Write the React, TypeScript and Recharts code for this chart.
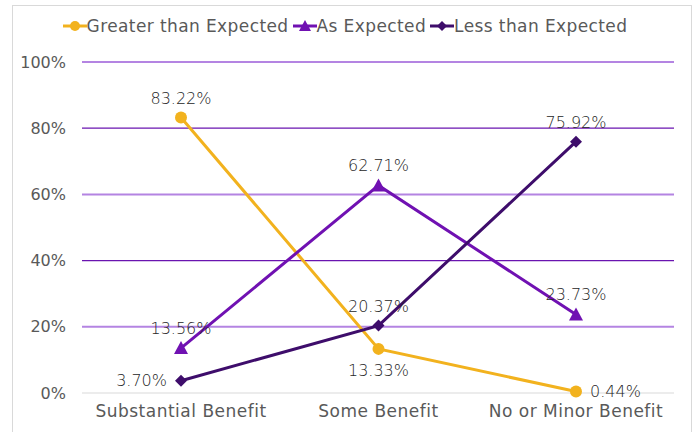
import { LineChart, Line, XAxis, YAxis, ReferenceLine, Legend, LabelList } from "recharts"

const categories = ["Substantial Benefit", "Some Benefit", "No or Minor Benefit"]
const greaterThanExpected = [0.8322, 0.1333, 0.0044]
const asExpected = [0.1356, 0.6271, 0.2373]
const lessThanExpected = [0.037, 0.2037, 0.7592]
const yTicks = [0, 0.2, 0.4, 0.6, 0.8, 1]

const data = categories.map((name, i) => ({
  name,
  greater: greaterThanExpected[i],
  as: asExpected[i],
  less: lessThanExpected[i],
}))

const FONT = "'DejaVu Sans', sans-serif"
const YELLOW = "#F2B21E"
const PURPLE = "#7011B2"
const DARK = "#3E0D6B"

// 0% grey, then light / dark purple alternating
const gridStyle = (v: number) => {
  if (v === 0) return { stroke: "#d9d9d9", width: 1.2 }
  return Math.round(v * 10) % 4 === 0 ? { stroke: "#6a14b0", width: 1.2 } : { stroke: "#b484e2", width: 2 }
}

const pct = (v: number) => `${(v * 100).toFixed(2)}%`

function makeLabel(positions: string[]) {
  return (props: any) => {
    const { x, y, value, index } = props
    const pos = positions[index]
    let tx = x
    let ty = y
    let anchor: "middle" | "start" | "end" = "middle"
    if (pos === "top") ty = y - 14
    if (pos === "bottom") ty = y + 27
    if (pos === "right") {
      tx = x + 14
      ty = y + 5
      anchor = "start"
    }
    if (pos === "left") {
      tx = x - 14
      ty = y + 5
      anchor = "end"
    }
    return (
      <text x={tx} y={ty} textAnchor={anchor} fill="#262626" fontSize={16} fontFamily={FONT} fontWeight={200}>
        {pct(value)}
      </text>
    )
  }
}

const CircleDot = (props: any) => {
  const { cx, cy } = props
  return <circle cx={cx} cy={cy} r={6} fill={YELLOW} />
}

const TriangleDot = (props: any) => {
  const { cx, cy } = props
  return <path d={`M${cx},${cy - 7} L${cx + 7},${cy + 6} L${cx - 7},${cy + 6} Z`} fill={PURPLE} />
}

const DiamondDot = (props: any) => {
  const { cx, cy } = props
  return <path d={`M${cx},${cy - 6} L${cx + 6},${cy} L${cx},${cy + 6} L${cx - 6},${cy} Z`} fill={DARK} />
}

const legendItems = [
  { label: "Greater than Expected", color: YELLOW, shape: "circle" },
  { label: "As Expected", color: PURPLE, shape: "triangle" },
  { label: "Less than Expected", color: DARK, shape: "diamond" },
]

function LegendContent() {
  return (
    <div style={{ display: "flex", justifyContent: "center", gap: 4, fontFamily: FONT, fontSize: 17, letterSpacing: 0.4, color: "#595959" }}>
      {legendItems.map((item) => (
        <div key={item.label} style={{ display: "flex", alignItems: "center" }}>
          <svg width={24} height={14}>
            <line x1={0} y1={7} x2={24} y2={7} stroke={item.color} strokeWidth={3} />
            {item.shape === "circle" && <circle cx={12} cy={7} r={5} fill={item.color} />}
            {item.shape === "triangle" && <path d="M12,1 L18,12 L6,12 Z" fill={item.color} />}
            {item.shape === "diamond" && <path d="M12,2 L17,7 L12,12 L7,7 Z" fill={item.color} />}
          </svg>
          <span>{item.label}</span>
        </div>
      ))}
    </div>
  )
}

export default function App() {
  return (
    <div style={{ position: "absolute", left: 0, top: 0, width: 694, height: 432, background: "#fff" }}>
      <div style={{ position: "absolute", left: 12, top: 5, width: 678, height: 440, border: "1px solid #d9d9d9" }} />
      <LineChart width={694} height={432} data={data} margin={{ top: 42, right: 20, bottom: 9, left: 0 }}>
        {yTicks.map((t) => (
          <ReferenceLine key={t} y={t} stroke={gridStyle(t).stroke} strokeWidth={gridStyle(t).width} ifOverflow="extendDomain" />
        ))}
        <XAxis
          dataKey="name"
          axisLine={false}
          tickLine={false}
          height={30}
          padding={{ left: 99, right: 98 }}
          tick={{ fill: "#595959", fontSize: 17, fontFamily: FONT, letterSpacing: 0.5 }}
          tickMargin={6}
        />
        <YAxis
          domain={[0, 1]}
          ticks={yTicks}
          width={82}
          axisLine={false}
          tickLine={false}
          tickMargin={10}
          tickFormatter={(v) => `${Math.round(v * 100)}%`}
          tick={{ fill: "#595959", fontSize: 16, fontFamily: FONT }}
        />
        <Legend verticalAlign="top" content={<LegendContent />} wrapperStyle={{ top: 16, left: -2, width: 694 }} />
        <Line dataKey="greater" stroke={YELLOW} strokeWidth={3} dot={<CircleDot />} activeDot={false} isAnimationActive={false}>
          <LabelList dataKey="greater" content={makeLabel(["top", "bottom", "right"])} />
        </Line>
        <Line dataKey="as" stroke={PURPLE} strokeWidth={3} dot={<TriangleDot />} activeDot={false} isAnimationActive={false}>
          <LabelList dataKey="as" content={makeLabel(["top", "top", "top"])} />
        </Line>
        <Line dataKey="less" stroke={DARK} strokeWidth={3} dot={<DiamondDot />} activeDot={false} isAnimationActive={false}>
          <LabelList dataKey="less" content={makeLabel(["left", "top", "top"])} />
        </Line>
      </LineChart>
    </div>
  )
}
